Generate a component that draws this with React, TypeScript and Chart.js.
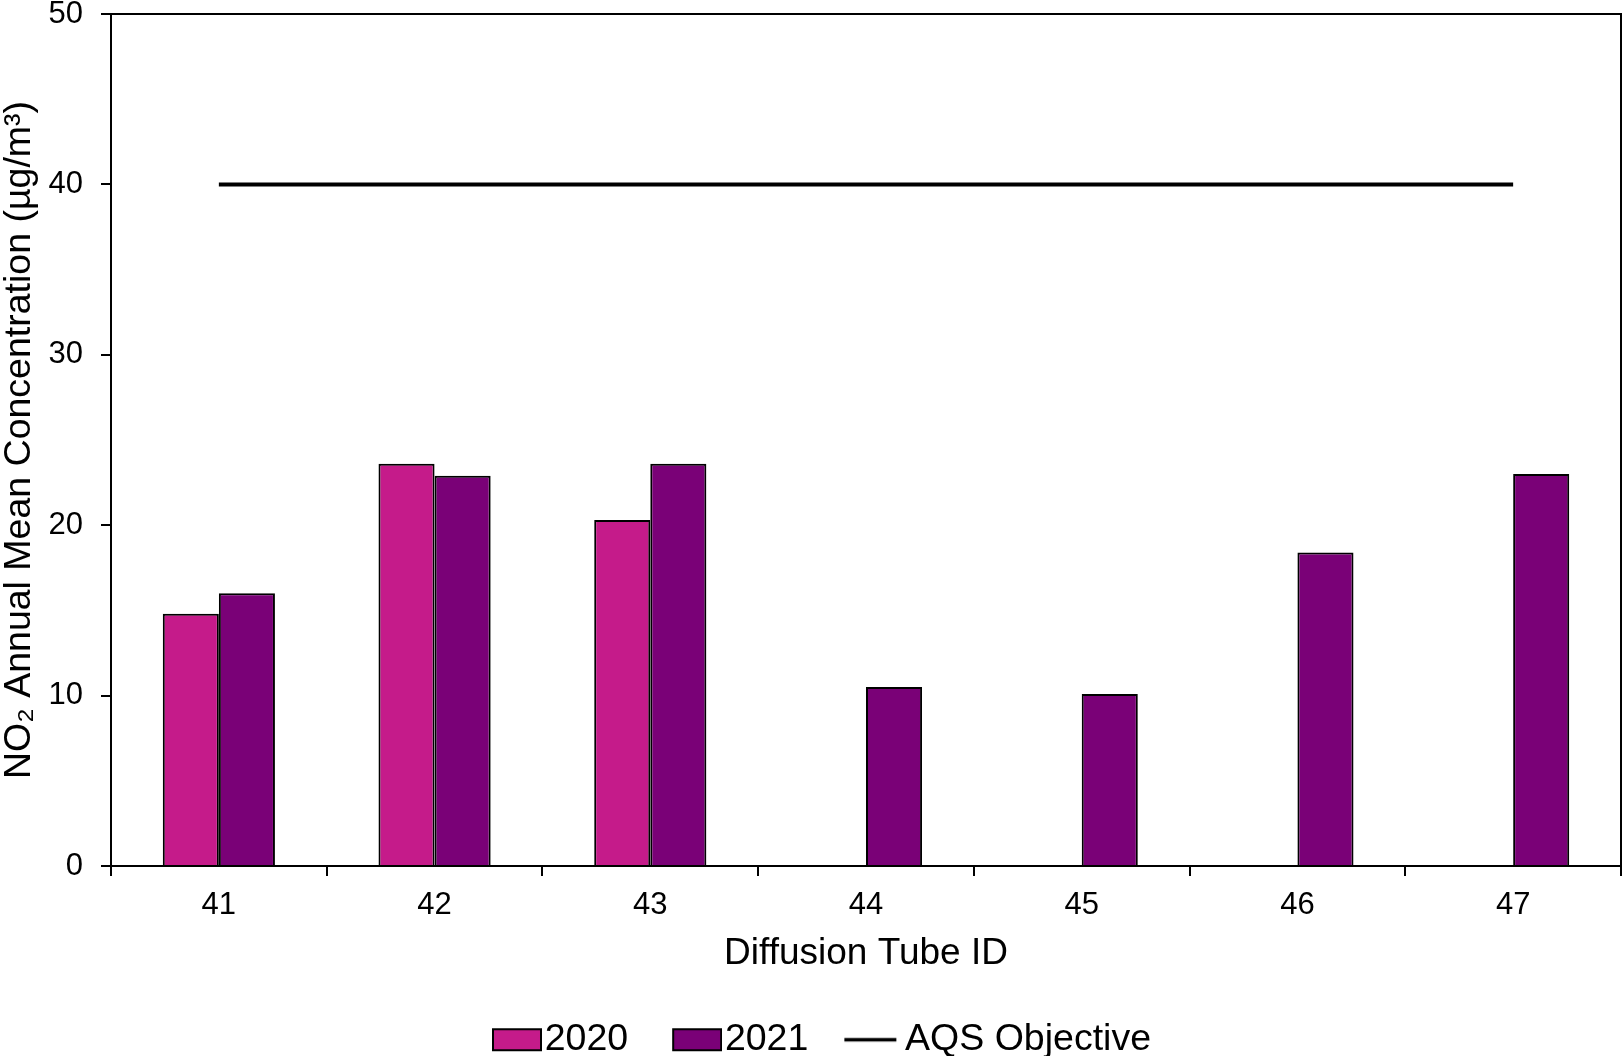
import React, { useEffect, useRef } from "react";
import { Chart, registerables } from "chart.js";

Chart.register(...registerables);

const categories = ["41", "42", "43", "44", "45", "46", "47"];
const values2020: (number | null)[] = [14.8, 23.6, 20.3, null, null, null, null];
const values2021: number[] = [16.0, 22.9, 23.6, 10.5, 10.1, 18.4, 23.0];
const aqsObjective: number[] = [40, 40, 40, 40, 40, 40, 40];
const seriesLabels = ["2020", "2021", "AQS Objective"];
const yTitle = "NO₂ Annual Mean Concentration (µg/m³)";
const xTitle = "Diffusion Tube ID";

const framePlugin = {
  id: "frame",
  afterDraw(chart: any) {
    const { ctx, chartArea } = chart;
    ctx.save();
    ctx.strokeStyle = "#000";
    ctx.lineWidth = 2;
    ctx.strokeRect(chartArea.left, chartArea.top, chartArea.right - chartArea.left, chartArea.bottom - chartArea.top);
    ctx.restore();
  },
};

// Legend marker image: marker drawn in the right part so the text sits close to it
function legendMarker(kind: "rect" | "line", fill: string): HTMLCanvasElement {
  const c = document.createElement("canvas");
  c.width = 68;
  c.height = 25;
  const g = c.getContext("2d") as CanvasRenderingContext2D;
  if (kind === "rect") {
    g.fillStyle = fill;
    g.fillRect(19, 2, 48, 21);
    g.strokeStyle = "#000";
    g.lineWidth = 2;
    g.strokeRect(19, 2, 48, 21);
  } else {
    g.strokeStyle = "#000";
    g.lineWidth = 3.5;
    g.beginPath();
    g.moveTo(10, 12.5);
    g.lineTo(62, 12.5);
    g.stroke();
  }
  return c;
}

export default function App() {
  const ref = useRef<HTMLCanvasElement | null>(null);
  useEffect(() => {
    document.body.style.margin = "0";
    Chart.defaults.font.family = "'Liberation Sans', Arial, sans-serif";
    Chart.defaults.color = "#000";
    const chart = new Chart(ref.current as HTMLCanvasElement, {
      type: "bar",
      data: {
        labels: categories,
        datasets: [
          {
            type: "bar",
            label: seriesLabels[0],
            data: values2020,
            backgroundColor: "#C51B8A",
            borderColor: "#000",
            borderWidth: 2,
          },
          {
            type: "bar",
            label: seriesLabels[1],
            data: values2021,
            backgroundColor: "#7A0177",
            borderColor: "#000",
            borderWidth: 2,
          },
          {
            type: "line",
            label: seriesLabels[2],
            data: aqsObjective,
            borderColor: "#000",
            backgroundColor: "#000",
            borderWidth: 4,
            pointRadius: 0,
            fill: false,
          },
        ] as any,
      },
      options: {
        responsive: false,
        animation: false,
        layout: { padding: { top: 14, right: 2, left: 20, bottom: 0 } },
        datasets: {
          bar: { categoryPercentage: 0.52, barPercentage: 1 },
        } as any,
        plugins: {
          tooltip: { enabled: false },
          legend: {
            position: "bottom",
            maxHeight: 77,
            labels: {
              usePointStyle: true,
              pointStyleWidth: 36,
              boxHeight: 21,
              padding: 42,
              font: { size: 37.5 },
              color: "#000",
              sort: (a: any, b: any) => a.datasetIndex - b.datasetIndex,
              generateLabels: (c: any) =>
                Chart.defaults.plugins.legend.labels
                  .generateLabels(c)
                  .map((l: any) => ({
                    ...l,
                    pointStyle:
                      l.datasetIndex === 2 ? legendMarker("line", "#000") : legendMarker("rect", l.fillStyle),
                  })),
            },
          } as any,
        },
        scales: {
          x: {
            offset: true,
            grid: {
              offset: true,
              drawOnChartArea: false,
              drawTicks: true,
              tickLength: 10,
              color: "#000",
              lineWidth: 2,
            },
            border: { color: "#000", width: 2 },
            ticks: { font: { size: 31 }, padding: 11, color: "#000" },
            title: {
              display: true,
              text: xTitle,
              font: { size: 37 },
              color: "#000",
              padding: { top: 0, bottom: 3 },
            },
            afterFit: (s: any) => {
              s.height = 113;
              s.paddingLeft = 0;
              s.paddingRight = 0;
            },
          },
          y: {
            min: 0,
            max: 50,
            ticks: { stepSize: 10, font: { size: 31 }, padding: 18, color: "#000" },
            grid: {
              drawOnChartArea: false,
              drawTicks: true,
              tickLength: 10,
              color: "#000",
              lineWidth: 2,
            },
            border: { color: "#000", width: 2 },
            title: {
              display: true,
              text: yTitle,
              font: { size: 37.5, lineHeight: 1 },
              color: "#000",
              padding: { top: -19, bottom: 0 },
            },
            afterFit: (s: any) => {
              s.width = 91;
              s.paddingTop = 0;
              s.paddingBottom = 0;
            },
          },
        },
      } as any,
      plugins: [framePlugin],
    });
    return () => chart.destroy();
  }, []);
  return (
    <div style={{ position: "absolute", left: 0, top: 0, width: 1623, height: 1056, background: "#fff" }}>
      <canvas ref={ref} width={1623} height={1056} style={{ display: "block" }} />
    </div>
  );
}
